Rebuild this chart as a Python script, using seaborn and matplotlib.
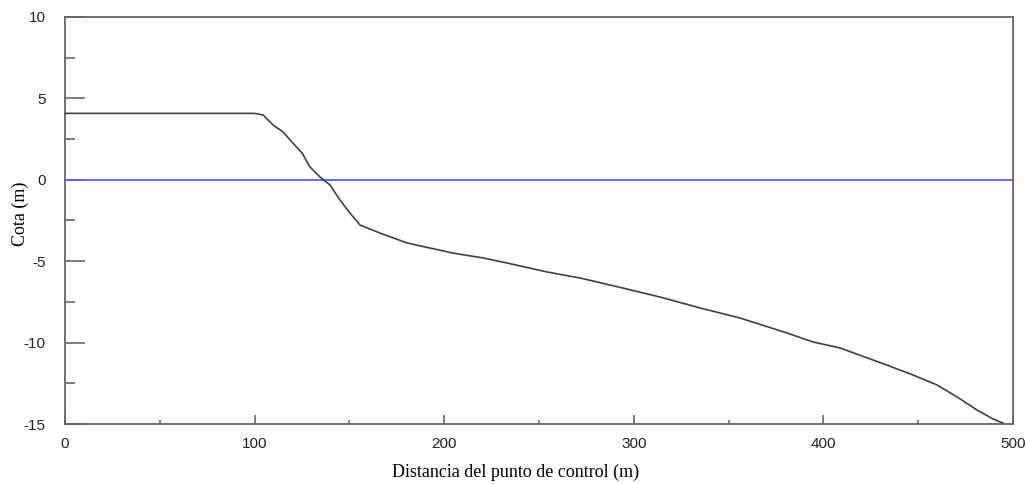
import matplotlib
matplotlib.use("Agg")
import matplotlib.pyplot as plt
from matplotlib.ticker import MultipleLocator
import seaborn as sns
import pandas as pd

# Terrain profile along the control section
distancia = [0, 20, 40, 60, 80, 100, 104.5, 109.7, 115, 119.7, 125, 129.2, 134.5,
             139.8, 145, 150.3, 155.6, 166.1, 180.4, 204.6, 220.5, 233.1, 254.2,
             271.6, 294.3, 313.8, 334.9, 356.0, 380.8, 394.5, 408.8, 433.5,
             447.3, 459.9, 470.5, 481.0, 489.5, 494.7]
cota = [4.08, 4.08, 4.08, 4.08, 4.08, 4.08, 3.98, 3.37, 2.94, 2.32, 1.65, 0.79,
        0.17, -0.32, -1.24, -2.04, -2.78, -3.27, -3.88, -4.50, -4.80, -5.11,
        -5.66, -6.03, -6.65, -7.20, -7.87, -8.49, -9.41, -9.96, -10.33, -11.38,
        -11.99, -12.60, -13.34, -14.14, -14.69, -14.94]
nivel_referencia = 0.0

df = pd.DataFrame({"Distancia": distancia, "Cota": cota})

sns.set_theme(style="white")
plt.rcParams["font.family"] = ["Liberation Sans", "DejaVu Sans"]
plt.rcParams["axes.unicode_minus"] = False

fig = plt.figure(figsize=(10.26, 4.84), dpi=100)
ax = fig.add_axes([65 / 1026, 1 - 424 / 484, 948 / 1026, 407 / 484])

ax.axhline(nivel_referencia, color="#5a5aff", lw=1.3, zorder=2)
sns.lineplot(data=df, x="Distancia", y="Cota", ax=ax, color="#404040",
             lw=1.2, zorder=3)

ax.set_xlim(0, 500)
ax.set_ylim(-15, 10)
ax.xaxis.set_major_locator(MultipleLocator(100))
ax.xaxis.set_minor_locator(MultipleLocator(50))
ax.yaxis.set_major_locator(MultipleLocator(5))
ax.yaxis.set_minor_locator(MultipleLocator(2.5))

spine_color = "#666666"
for s in ax.spines.values():
    s.set_color(spine_color)
    s.set_linewidth(1.3)

ax.tick_params(axis="both", which="both", direction="in", colors=spine_color,
               labelcolor="#222222", labelsize=11, width=1.2,
               bottom=True, left=True, top=False, right=False)
ax.tick_params(axis="y", which="major", length=14.5, pad=14)
ax.tick_params(axis="y", which="minor", length=7.2)
ax.tick_params(axis="x", which="major", length=6.5, pad=9)
ax.tick_params(axis="x", which="minor", length=3)

ax.set_xlabel("Distancia del punto de control (m)",
              fontfamily="Liberation Serif", fontsize=13, color="black")
ax.set_ylabel("Cota (m)", fontfamily="Liberation Serif", fontsize=13,
              color="black")
ax.xaxis.set_label_coords((516 - 65) / 948, (424 - 464) / 407)
ax.yaxis.set_label_coords((29 - 65) / 948, (424 - 214) / 407)

fig.savefig("out.png", dpi=100, facecolor="white")
